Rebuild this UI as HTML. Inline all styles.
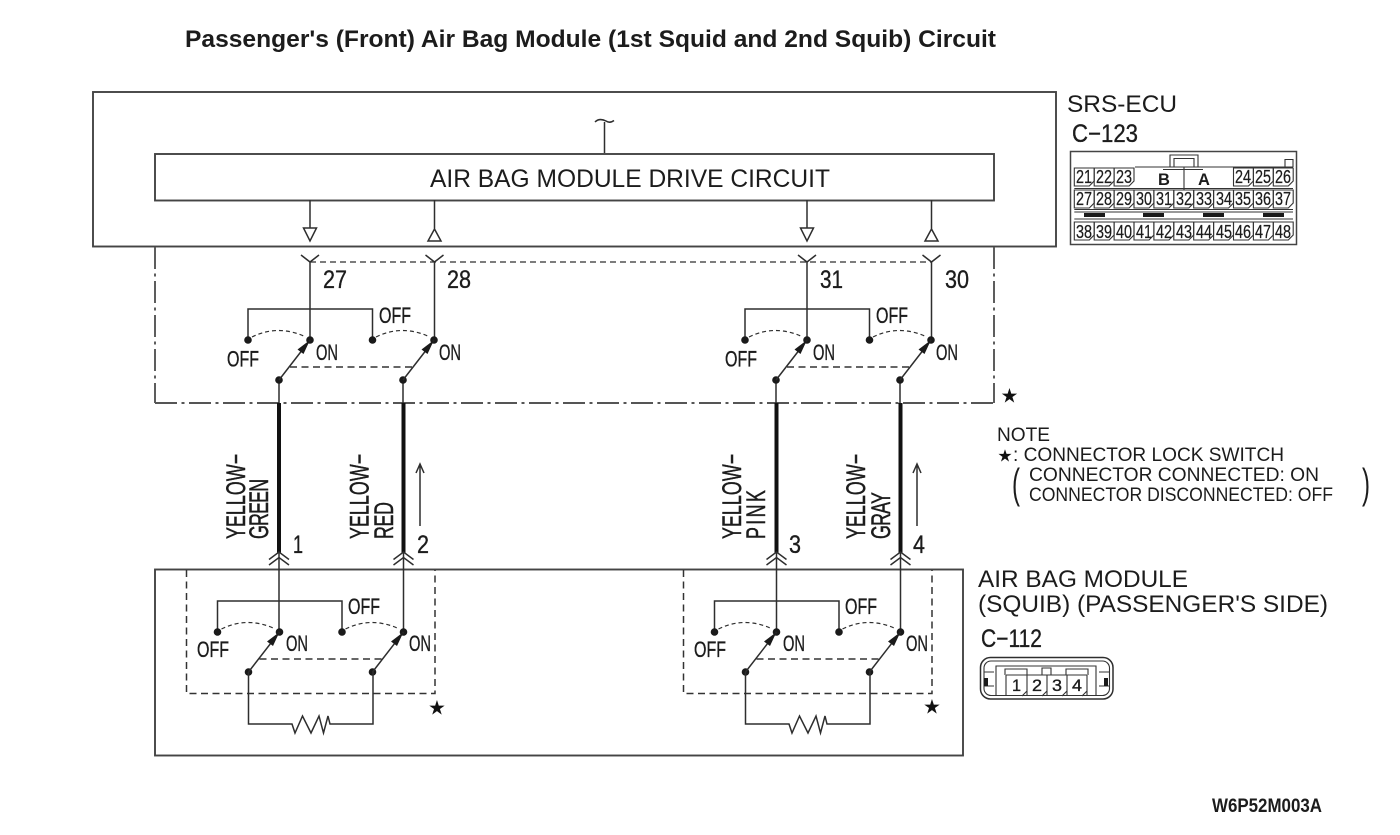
<!DOCTYPE html>
<html><head><meta charset="utf-8"><style>
html,body{margin:0;padding:0;background:#fff}
svg{display:block}
text{font-family:"Liberation Sans",sans-serif;fill:#1c1c1c}
.t text,text.t{stroke:#1c1c1c;stroke-width:.35}
.r text{stroke:#1c1c1c;stroke-width:.5}
.l{stroke:#2e2e2e;stroke-width:1.5;fill:none}
.b{stroke:#444;stroke-width:1.9;fill:none}
.dd{stroke:#555;stroke-width:1.9;fill:none;stroke-dasharray:22 4.5 3 4.5}
.d{stroke:#333;stroke-width:1.5;fill:none;stroke-dasharray:7 4.5}
.s{stroke:#2e2e2e;stroke-width:1.2;fill:none;stroke-dasharray:4 3}
.w{stroke:#111;stroke-width:4;fill:none}
.k{fill:#1a1a1a;stroke:none}
.c{stroke:#333;stroke-width:1.1;fill:none}
.n text{font-size:18.5px;text-anchor:middle;stroke:#1c1c1c;stroke-width:.25}
.st{font-family:"DejaVu Sans",sans-serif;font-size:20px;text-anchor:middle;fill:#111}
</style></head><body>
<svg width="1400" height="835" viewBox="0 0 1400 835" xmlns="http://www.w3.org/2000/svg">
<defs>
<g id="sw">
<path class="l" d="M0 0V-31H124.500V0"/>
<circle class="k" cx="0" cy="0" r="3.800"/><circle class="k" cx="62" cy="0" r="3.800"/>
<circle class="k" cx="124.500" cy="0" r="3.800"/><circle class="k" cx="186" cy="0" r="3.800"/>
<circle class="k" cx="31" cy="40" r="3.800"/><circle class="k" cx="155" cy="40" r="3.800"/>
<path class="s" d="M4 -3Q30 -16 58 -3"/><path class="s" d="M128 -3Q154 -16 182 -3"/>
<path class="l" d="M31 40L62 0M155 40L186 0"/>
<path class="k" d="M62 0L49.500 9.500L55.500 14ZM186 0L173.500 9.500L179.500 14Z"/>
<path class="d" d="M42 27H164"/>
</g>
<g id="ch"><path class="l" d="M-10 7.500L0 0L10 7.500M-10 13L0 5.500L10 13"/></g>
<g id="res"><path class="l" d="M0 0V52H43.500L46.500 61L54 44L62.500 61L70.500 44L75 61L79.500 44L81.500 52H124.500V0"/></g>
<g id="cell"><path class="c" d="M0 0V18H15L19.900 13V0Z"/></g>
</defs>

<text x="185" y="47" font-size="24.500" font-weight="bold" textLength="811" lengthAdjust="spacingAndGlyphs">Passenger's (Front) Air Bag Module (1st Squid and 2nd Squib) Circuit</text>

<rect class="b" x="93" y="92" width="963" height="154.500"/>
<rect class="b" x="155" y="154" width="839" height="46.500"/>
<path class="l" d="M604.500 153V122M595 122C598 119 602 119 606 121C609 123 612 122 614 120.500"/>
<text x="430" y="187" font-size="24.600" textLength="400" lengthAdjust="spacingAndGlyphs">AIR BAG MODULE DRIVE CIRCUIT</text>

<path class="l" d="M310 200V228M303.500 228H316.500L310 241ZM434.500 200V229M434.500 229L428 241H441ZM807 200V228M800.500 228H813.500L807 241ZM931.500 200V229M931.500 229L925 241H938Z"/>

<path class="dd" d="M155 247V403"/>
<path class="dd" d="M155 403H994"/>
<path class="dd" d="M994 247V403"/>
<path class="s" style="stroke-dasharray:6 4" d="M310 262H931"/>
<path class="l" d="M301 255L310 262L319 255M425.500 255L434.500 262L443.500 255M798 255L807 262L816 255M922.500 255L931.500 262L940.500 255"/>
<path class="l" d="M310 262V340M434.500 262V340M807 262V340M931.500 262V340M279 380V403M403 380V403M776 380V403M900 380V403"/>
<use href="#sw" x="248" y="340"/>
<use href="#sw" x="745" y="340"/>

<path class="w" d="M279 403V553M403.500 403V553M776.500 403V553M900.500 403V553"/>
<use href="#ch" x="279" y="552"/><use href="#ch" x="403.500" y="552"/><use href="#ch" x="776.500" y="552"/><use href="#ch" x="900.500" y="552"/>

<g font-size="25" class="t">
<text x="323" y="288" textLength="24" lengthAdjust="spacingAndGlyphs">27</text>
<text x="447" y="288" textLength="24" lengthAdjust="spacingAndGlyphs">28</text>
<text x="820" y="288" textLength="23" lengthAdjust="spacingAndGlyphs">31</text>
<text x="945" y="288" textLength="24" lengthAdjust="spacingAndGlyphs">30</text>
<text x="293" y="553" textLength="10" lengthAdjust="spacingAndGlyphs">1</text>
<text x="417" y="553" textLength="12" lengthAdjust="spacingAndGlyphs">2</text>
<text x="789" y="553" textLength="12" lengthAdjust="spacingAndGlyphs">3</text>
<text x="913" y="553" textLength="12" lengthAdjust="spacingAndGlyphs">4</text>
</g>
<g font-size="22" class="t">
<text x="227" y="366.500" textLength="32" lengthAdjust="spacingAndGlyphs">OFF</text>
<text x="379" y="323" textLength="32" lengthAdjust="spacingAndGlyphs">OFF</text>
<text x="316" y="360" textLength="22" lengthAdjust="spacingAndGlyphs">ON</text>
<text x="439" y="360" textLength="22" lengthAdjust="spacingAndGlyphs">ON</text>
<text x="725" y="366.500" textLength="32" lengthAdjust="spacingAndGlyphs">OFF</text>
<text x="876" y="323" textLength="32" lengthAdjust="spacingAndGlyphs">OFF</text>
<text x="813" y="360" textLength="22" lengthAdjust="spacingAndGlyphs">ON</text>
<text x="936" y="360" textLength="22" lengthAdjust="spacingAndGlyphs">ON</text>
<text x="197" y="657" textLength="32" lengthAdjust="spacingAndGlyphs">OFF</text>
<text x="348" y="614" textLength="32" lengthAdjust="spacingAndGlyphs">OFF</text>
<text x="286" y="651" textLength="22" lengthAdjust="spacingAndGlyphs">ON</text>
<text x="409" y="651" textLength="22" lengthAdjust="spacingAndGlyphs">ON</text>
<text x="694" y="657" textLength="32" lengthAdjust="spacingAndGlyphs">OFF</text>
<text x="845" y="614" textLength="32" lengthAdjust="spacingAndGlyphs">OFF</text>
<text x="783" y="651" textLength="22" lengthAdjust="spacingAndGlyphs">ON</text>
<text x="906" y="651" textLength="22" lengthAdjust="spacingAndGlyphs">ON</text>
</g>

<g font-size="27" class="r">
<text transform="translate(245,539) rotate(-90) scale(.66,1)" textLength="129" lengthAdjust="spacing">YELLOW−</text>
<text transform="translate(268,539) rotate(-90) scale(.66,1)" textLength="91" lengthAdjust="spacing">GREEN</text>
<text transform="translate(368.500,539) rotate(-90) scale(.66,1)" textLength="129" lengthAdjust="spacing">YELLOW−</text>
<text transform="translate(393,539) rotate(-90) scale(.66,1)" textLength="56" lengthAdjust="spacing">RED</text>
<text transform="translate(741,539) rotate(-90) scale(.66,1)" textLength="129" lengthAdjust="spacing">YELLOW−</text>
<text transform="translate(765,539) rotate(-90) scale(.66,1)" textLength="74" lengthAdjust="spacing">PINK</text>
<text transform="translate(865,539) rotate(-90) scale(.66,1)" textLength="129" lengthAdjust="spacing">YELLOW−</text>
<text transform="translate(890,539) rotate(-90) scale(.66,1)" textLength="71" lengthAdjust="spacing">GRAY</text>
</g>
<path class="l" d="M420 526V464M416 473L420 464L424 473M917 526V464M913 473L917 464L921 473"/>

<rect class="b" x="155" y="569.500" width="808" height="186"/>
<path class="d" d="M186.500 570V693.500H435V570"/>
<path class="d" d="M683.500 570V693.500H932V570"/>
<path class="l" d="M279 553V632M403.500 553V632M776.500 553V632M900.500 553V632"/>
<use href="#sw" x="217.500" y="632"/>
<use href="#sw" x="714.500" y="632"/>
<use href="#res" x="248.500" y="672"/>
<use href="#res" x="745.500" y="672"/>

<text class="st" x="1009.500" y="402.600">★</text>
<text class="st" x="437" y="714.500">★</text>
<text class="st" x="932" y="713.500">★</text>
<text class="st" style="font-size:17px" x="1005" y="461.600">★</text>

<text x="1067" y="112" font-size="24.400" textLength="110" lengthAdjust="spacingAndGlyphs">SRS-ECU</text>
<text class="t" x="1072" y="142" font-size="25" textLength="66" lengthAdjust="spacingAndGlyphs">C−123</text>

<rect class="b" style="stroke-width:1.500" x="1070.500" y="151.500" width="226" height="93"/>
<path class="c" d="M1170 167V155H1198V167M1174 167V158.500H1194V167M1285 167V159.500H1293V167M1135 167H1293M1163 169.500H1203M1184 167V190M1074.300 188.500H1293M1074.300 209.500H1293M1074.300 212H1293M1074.300 219H1293"/>
<g fill="none">
<use href="#cell" x="1074.300" y="168"/><use href="#cell" x="1094.200" y="168"/><use href="#cell" x="1114.100" y="168"/>
<use href="#cell" x="1233.500" y="168"/><use href="#cell" x="1253.400" y="168"/><use href="#cell" x="1273.300" y="168"/>
<use href="#cell" x="1074.300" y="190"/><use href="#cell" x="1094.200" y="190"/><use href="#cell" x="1114.100" y="190"/><use href="#cell" x="1134" y="190"/><use href="#cell" x="1153.900" y="190"/><use href="#cell" x="1173.800" y="190"/><use href="#cell" x="1193.700" y="190"/><use href="#cell" x="1213.600" y="190"/><use href="#cell" x="1233.500" y="190"/><use href="#cell" x="1253.400" y="190"/><use href="#cell" x="1273.300" y="190"/>
<use href="#cell" x="1074.300" y="222"/><use href="#cell" x="1094.200" y="222"/><use href="#cell" x="1114.100" y="222"/><use href="#cell" x="1134" y="222"/><use href="#cell" x="1153.900" y="222"/><use href="#cell" x="1173.800" y="222"/><use href="#cell" x="1193.700" y="222"/><use href="#cell" x="1213.600" y="222"/><use href="#cell" x="1233.500" y="222"/><use href="#cell" x="1253.400" y="222"/><use href="#cell" x="1273.300" y="222"/>
</g>
<path class="k" d="M1084 213H1105V217H1084ZM1143 213H1164V217H1143ZM1203 213H1224V217H1203ZM1263 213H1284V217H1263Z"/>
<text x="1158" y="185" font-size="16.500" font-weight="bold">B</text>
<text x="1198" y="185" font-size="16.500" font-weight="bold">A</text>
<g class="n">
<text x="1084" y="183" textLength="16" lengthAdjust="spacingAndGlyphs">21</text><text x="1104" y="183" textLength="16" lengthAdjust="spacingAndGlyphs">22</text><text x="1124" y="183" textLength="16" lengthAdjust="spacingAndGlyphs">23</text><text x="1243" y="183" textLength="16" lengthAdjust="spacingAndGlyphs">24</text><text x="1263" y="183" textLength="16" lengthAdjust="spacingAndGlyphs">25</text><text x="1283" y="183" textLength="16" lengthAdjust="spacingAndGlyphs">26</text>
<text x="1084" y="205" textLength="16" lengthAdjust="spacingAndGlyphs">27</text><text x="1104" y="205" textLength="16" lengthAdjust="spacingAndGlyphs">28</text><text x="1124" y="205" textLength="16" lengthAdjust="spacingAndGlyphs">29</text><text x="1144" y="205" textLength="16" lengthAdjust="spacingAndGlyphs">30</text><text x="1164" y="205" textLength="16" lengthAdjust="spacingAndGlyphs">31</text><text x="1184" y="205" textLength="16" lengthAdjust="spacingAndGlyphs">32</text><text x="1204" y="205" textLength="16" lengthAdjust="spacingAndGlyphs">33</text><text x="1224" y="205" textLength="16" lengthAdjust="spacingAndGlyphs">34</text><text x="1243" y="205" textLength="16" lengthAdjust="spacingAndGlyphs">35</text><text x="1263" y="205" textLength="16" lengthAdjust="spacingAndGlyphs">36</text><text x="1283" y="205" textLength="16" lengthAdjust="spacingAndGlyphs">37</text>
<text x="1084" y="238" textLength="16" lengthAdjust="spacingAndGlyphs">38</text><text x="1104" y="238" textLength="16" lengthAdjust="spacingAndGlyphs">39</text><text x="1124" y="238" textLength="16" lengthAdjust="spacingAndGlyphs">40</text><text x="1144" y="238" textLength="16" lengthAdjust="spacingAndGlyphs">41</text><text x="1164" y="238" textLength="16" lengthAdjust="spacingAndGlyphs">42</text><text x="1184" y="238" textLength="16" lengthAdjust="spacingAndGlyphs">43</text><text x="1204" y="238" textLength="16" lengthAdjust="spacingAndGlyphs">44</text><text x="1224" y="238" textLength="16" lengthAdjust="spacingAndGlyphs">45</text><text x="1243" y="238" textLength="16" lengthAdjust="spacingAndGlyphs">46</text><text x="1263" y="238" textLength="16" lengthAdjust="spacingAndGlyphs">47</text><text x="1283" y="238" textLength="16" lengthAdjust="spacingAndGlyphs">48</text>
</g>

<g font-size="19.400">
<text x="997" y="441" textLength="53" lengthAdjust="spacingAndGlyphs">NOTE</text>
<text x="1013" y="461" textLength="271" lengthAdjust="spacingAndGlyphs">: CONNECTOR LOCK SWITCH</text>
<text x="1029" y="481" textLength="290" lengthAdjust="spacingAndGlyphs">CONNECTOR CONNECTED: ON</text>
<text x="1029" y="501" textLength="304" lengthAdjust="spacingAndGlyphs">CONNECTOR DISCONNECTED: OFF</text>
</g>
<text transform="translate(1012,498) scale(.8,1.400)" font-size="30">(</text>
<text transform="translate(1362,498) scale(.8,1.400)" font-size="30">)</text>

<text x="978" y="587" font-size="24.400" textLength="210" lengthAdjust="spacingAndGlyphs">AIR BAG MODULE</text>
<text x="978" y="612" font-size="24.400" textLength="350" lengthAdjust="spacingAndGlyphs">(SQUIB) (PASSENGER'S SIDE)</text>
<text class="t" x="981" y="647" font-size="25" textLength="61" lengthAdjust="spacingAndGlyphs">C−112</text>

<rect x="980.500" y="657.500" width="132.500" height="41.500" rx="10" class="l"/>
<rect x="984" y="661" width="125.500" height="34.500" rx="7" class="c"/>
<path class="c" d="M996 695V666H1096V695M1005 675V669H1027V675M1066 675V669H1088V675M1006 675H1087M1006 675V696M1027 675V696M1047 675V696M1067 675V696M1087 675V696M1042 675V668H1051V675M984 672H994M1099 672H1109M984 686H994M1099 686H1109M1022 696L1027 691M1042 696L1047 691M1062 696L1067 691M1082 696L1087 691"/>
<path class="k" d="M984 678H988V686H984ZM1104 678H1108V686H1104Z"/>
<g font-size="16.500" class="t">
<text x="1012" y="691" textLength="9" lengthAdjust="spacingAndGlyphs">1</text>
<text x="1032" y="691" textLength="10" lengthAdjust="spacingAndGlyphs">2</text>
<text x="1052" y="691" textLength="10" lengthAdjust="spacingAndGlyphs">3</text>
<text x="1072" y="691" textLength="10" lengthAdjust="spacingAndGlyphs">4</text>
</g>

<text x="1212" y="812" font-size="19" font-weight="bold" textLength="110" lengthAdjust="spacingAndGlyphs">W6P52M003A</text>
</svg>
</body></html>
